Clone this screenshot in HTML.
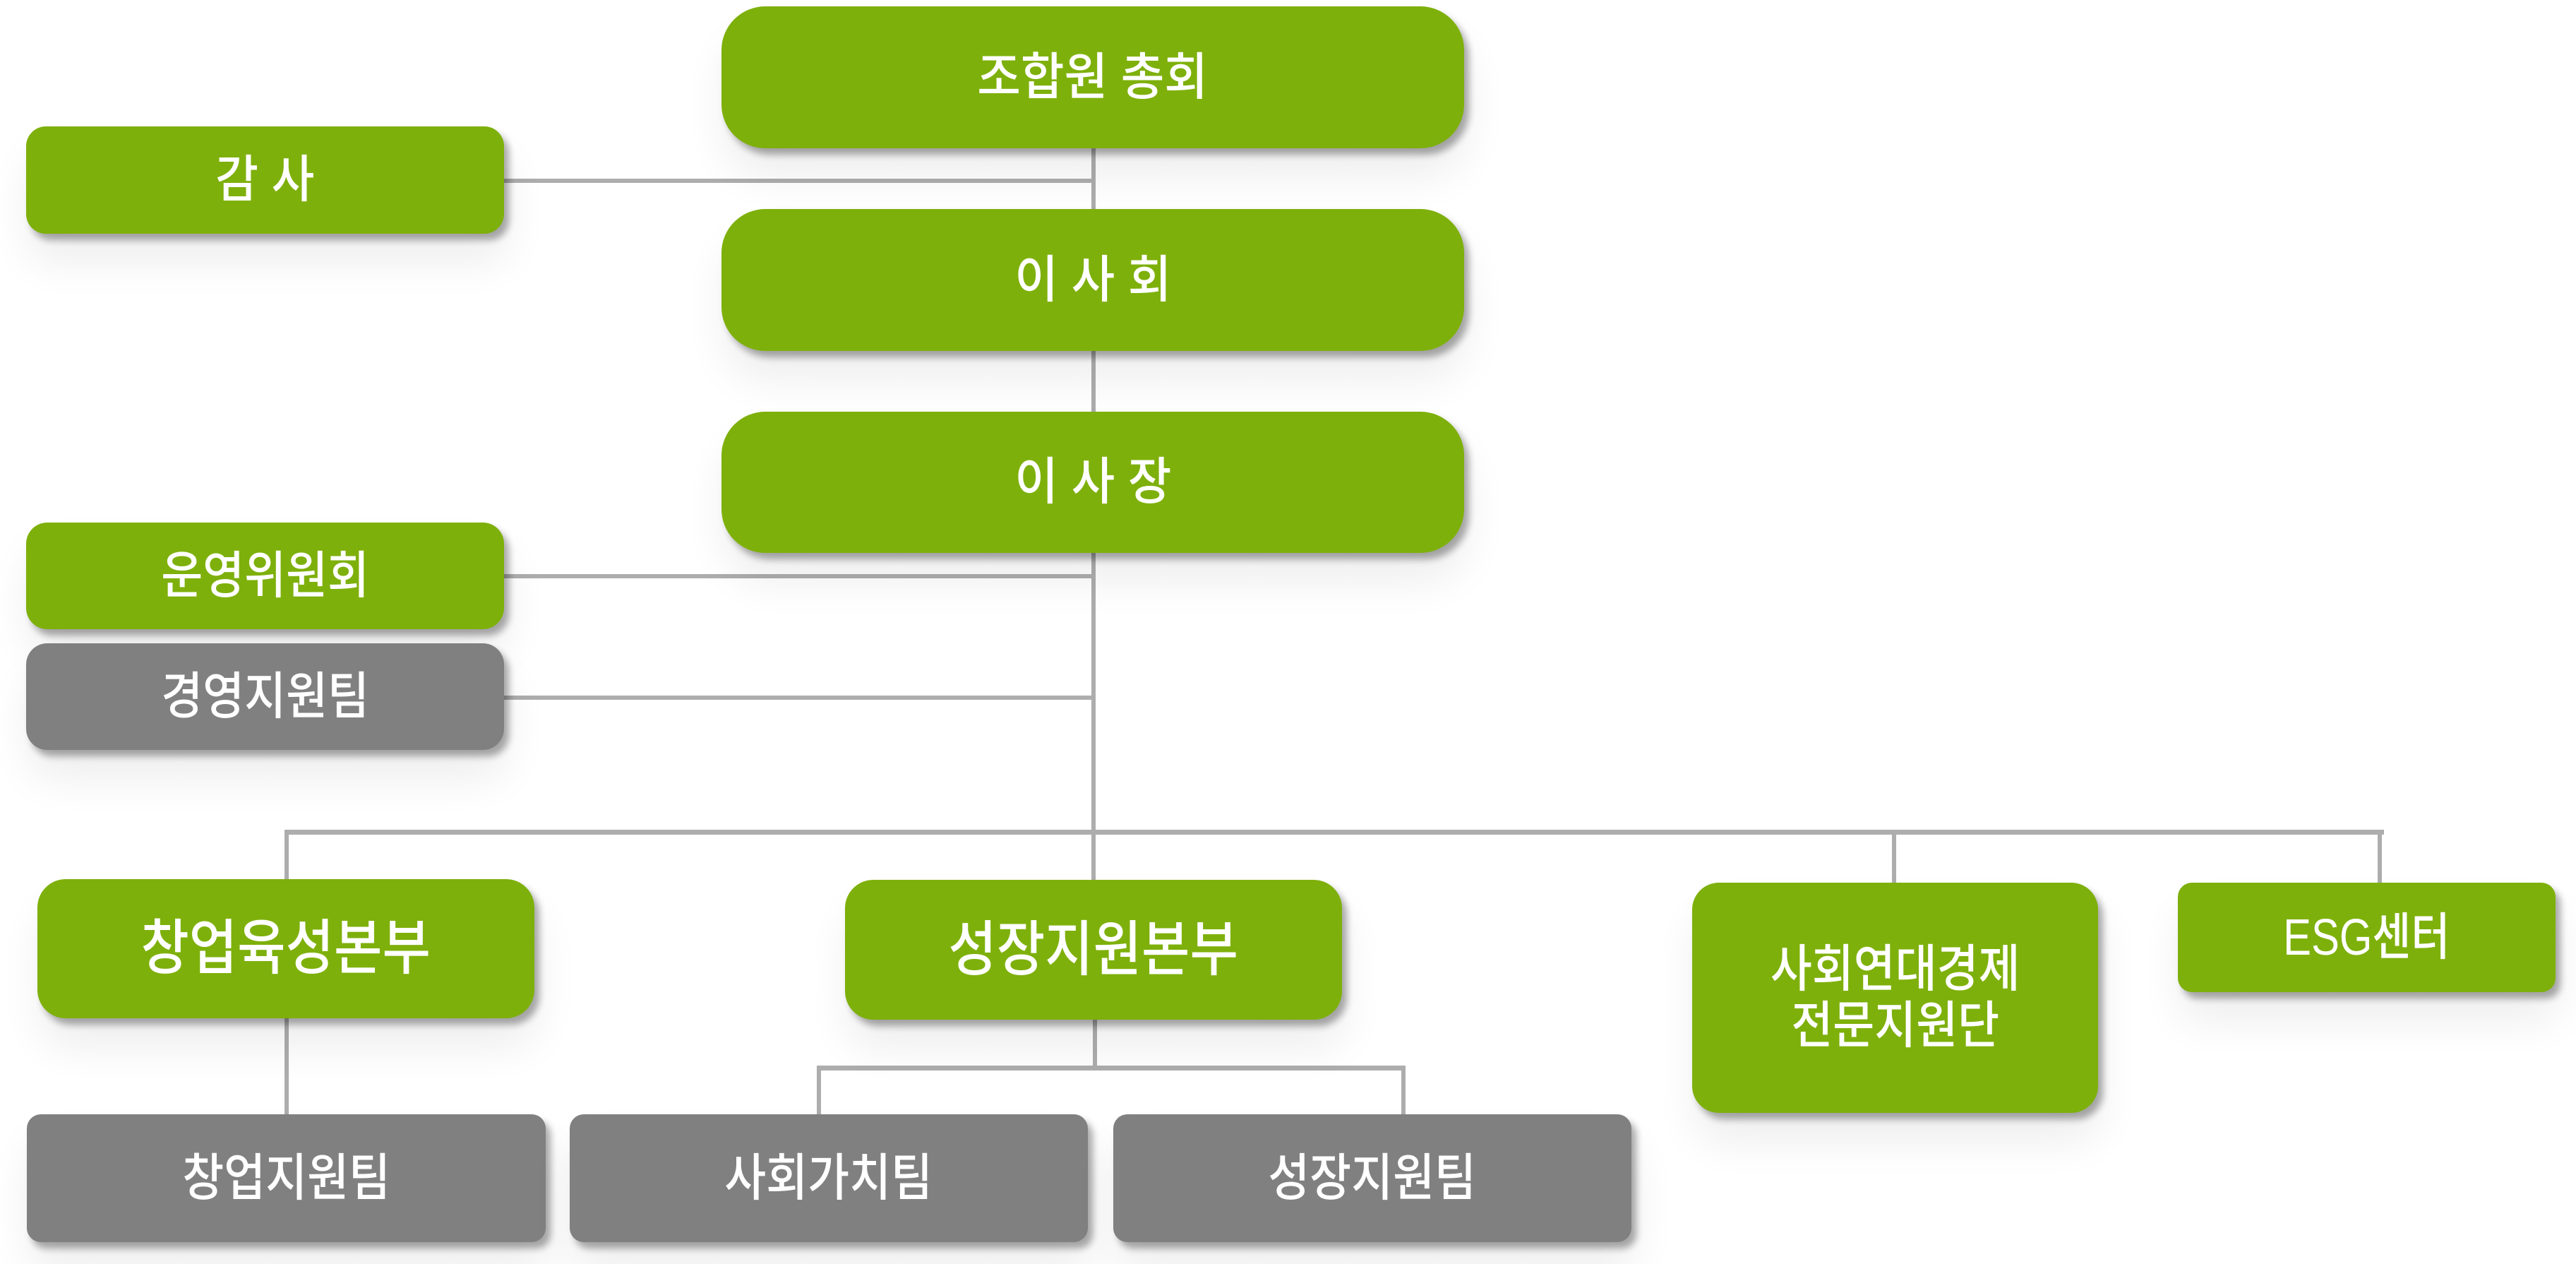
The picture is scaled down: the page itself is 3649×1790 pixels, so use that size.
<!DOCTYPE html>
<html><head><meta charset="utf-8">
<style>
html,body{margin:0;padding:0;}
body{width:3649px;height:1790px;background:#fff;position:relative;overflow:hidden;
font-family:"Liberation Sans","Noto Sans CJK KR",sans-serif;}
.l{position:absolute;background:#adadad;}
.b{position:absolute;display:flex;align-items:center;justify-content:center;color:#fff;
box-shadow:7px 9px 10px rgba(0,0,0,0.33),4px 40px 60px rgba(0,0,0,0.07);font-weight:500;}
.g{background:#7eb00b;}
.k{background:#808080;}
.b span{display:inline-block;white-space:nowrap;line-height:1;transform:scaleX(.89);font-size:72px;}
</style></head><body>

<!-- connector lines -->
<div class="l" style="left:1546px;top:150px;width:6px;height:1100px;"></div>
<div class="l" style="left:700px;top:253px;width:849px;height:6px;"></div>
<div class="l" style="left:700px;top:813px;width:849px;height:6px;"></div>
<div class="l" style="left:700px;top:985px;width:849px;height:6px;"></div>
<div class="l" style="left:403px;top:1175px;width:2974px;height:7px;"></div>
<div class="l" style="left:403px;top:1178px;width:6px;height:410px;"></div>
<div class="l" style="left:2680px;top:1178px;width:6px;height:80px;"></div>
<div class="l" style="left:3368px;top:1178px;width:6px;height:80px;"></div>
<div class="l" style="left:1548px;top:1430px;width:6px;height:84px;"></div>
<div class="l" style="left:1157px;top:1509px;width:834px;height:7px;"></div>
<div class="l" style="left:1157px;top:1512px;width:6px;height:72px;"></div>
<div class="l" style="left:1985px;top:1512px;width:6px;height:72px;"></div>

<!-- top column -->
<div class="b g" style="left:1022px;top:9px;width:1052px;height:201px;border-radius:62px;"><span style="transform:scaleX(.93);">조합원 총회</span></div>
<div class="b g" style="left:1022px;top:296px;width:1052px;height:201px;border-radius:62px;"><span style="transform:scaleX(.93);">이 사 회</span></div>
<div class="b g" style="left:1022px;top:583px;width:1052px;height:200px;border-radius:62px;"><span style="transform:scaleX(.93);">이 사 장</span></div>

<!-- left side -->
<div class="b g" style="left:37px;top:179px;width:677px;height:152px;border-radius:28px;"><span style="transform:scaleX(.92);">감 사</span></div>
<div class="b g" style="left:37px;top:740px;width:677px;height:151px;border-radius:30px;"><span>운영위원회</span></div>
<div class="b k" style="left:37px;top:911px;width:677px;height:151px;border-radius:30px;"><span>경영지원팀</span></div>

<!-- divisions -->
<div class="b g" style="left:53px;top:1245px;width:704px;height:197px;border-radius:40px;"><span style="font-size:85px;transform:scaleX(.875);">창업육성본부</span></div>
<div class="b g" style="left:1197px;top:1246px;width:704px;height:198px;border-radius:40px;"><span style="font-size:85px;transform:scaleX(.875);">성장지원본부</span></div>
<div class="b g" style="left:2397px;top:1250px;width:575px;height:326px;border-radius:38px;"><span style="line-height:80px;text-align:center;">사회연대경제<br>전문지원단</span></div>
<div class="b g" style="left:3085px;top:1250px;width:535px;height:155px;border-radius:20px;"><span style="transform:scaleX(.83);">ESG센터</span></div>

<!-- teams -->
<div class="b k" style="left:38px;top:1578px;width:735px;height:181px;border-radius:20px;"><span>창업지원팀</span></div>
<div class="b k" style="left:807px;top:1578px;width:734px;height:181px;border-radius:20px;"><span>사회가치팀</span></div>
<div class="b k" style="left:1577px;top:1578px;width:734px;height:181px;border-radius:20px;"><span>성장지원팀</span></div>

</body></html>
